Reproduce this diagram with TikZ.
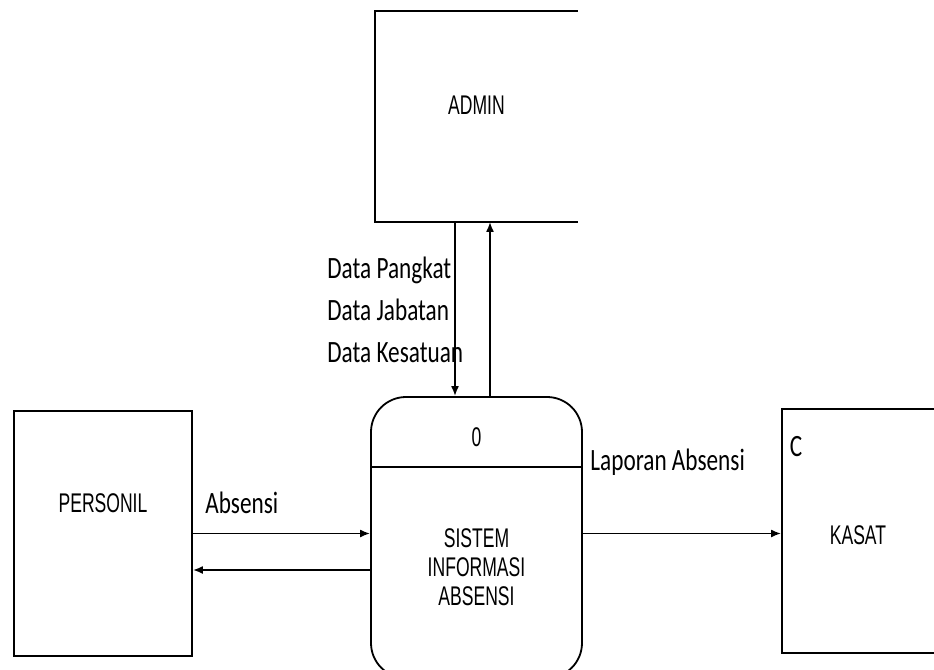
\documentclass[tikz,border=0pt]{standalone}
\usepackage{fontspec}
\setmainfont{Liberation Sans}
\newfontfamily\boxfont[FakeStretch=0.65]{Liberation Sans}
\newfontfamily\flowfont[FakeStretch=0.75]{Carlito}
\usetikzlibrary{arrows.meta, positioning}

\begin{document}
\begin{tikzpicture}[x=0.5pt, y=-0.5pt,
  box/.style={rectangle, draw, line width=0.9pt, inner sep=0pt},
  boxtext/.style={font=\boxfont\fontsize{13.5}{14.5}\selectfont, align=center, inner sep=0pt},
  process/.style={box, rounded corners=17.5pt},
  flow/.style={-{Latex[length=5pt, width=4pt]}, line width=0.9pt},
  flowlabel/.style={font=\flowfont\fontsize{15.5}{21}\selectfont, align=left, inner sep=0pt}
]
\useasboundingbox (0,0) rectangle (934,670);
\clip (0,0) rectangle (934,670);

% External entities
\node[box, draw=none, minimum width=100.5pt, minimum height=104.5pt,
  label={[boxtext, yshift=5.5pt]center:ADMIN}] (admin) at (476.5,116.5) {};
\draw[line width=0.9pt] (admin.north east) -- (admin.north west) -- (admin.south west) -- (admin.south east);

\node[box, minimum width=89pt, minimum height=122.5pt,
  label={[boxtext, yshift=15pt]center:PERSONIL}] (personil) at (103,533.5) {};

\node[box, minimum width=104pt, minimum height=122pt,
  label={[boxtext, xshift=-14pt, yshift=-2pt]center:KASAT}] (kasat) at (886,531) {};
\node[flowlabel] (kasatid) at ([xshift=7.5pt, yshift=-19pt]kasat.north west) {C};

% Process
\node[process, minimum width=105.5pt, minimum height=140.5pt] (proc) at (476.5,537.5) {};
\draw[line width=0.9pt] ([yshift=35.25pt]proc.west) -- ([yshift=35.25pt]proc.east);
\node[boxtext] (procid) at ([yshift=50.25pt]proc.center) {0};
\node[boxtext] (procname) at ([yshift=-14.75pt]proc.center) {SISTEM\\INFORMASI\\ABSENSI};

% Flows
\path ([xshift=-10.75pt]admin.south) coordinate (dn)
      ([xshift=6.75pt]admin.south) coordinate (up)
      ([yshift=-18.25pt]personil.east) coordinate (back);
\draw[flow] (dn) -- (dn |- proc.north);
\draw[flow] (up |- proc.north) -- (up);
\draw[flow] (personil.east) -- (personil.east -| proc.west);
\draw[flow] (back -| proc.west) -- (back);
\draw[flow] (proc.east |- personil.east) -- (kasat.west |- personil.east);

% Labels
\node[flowlabel, anchor=west] (datalabel) at (327,310) {Data Pangkat\\Data Jabatan\\Data Kesatuan};
\node[flowlabel, anchor=west] (absensi) at (205,503) {Absensi};
\node[flowlabel, anchor=west] (laporan) at (590,462) {Laporan Absensi};

\end{tikzpicture}
\end{document}
